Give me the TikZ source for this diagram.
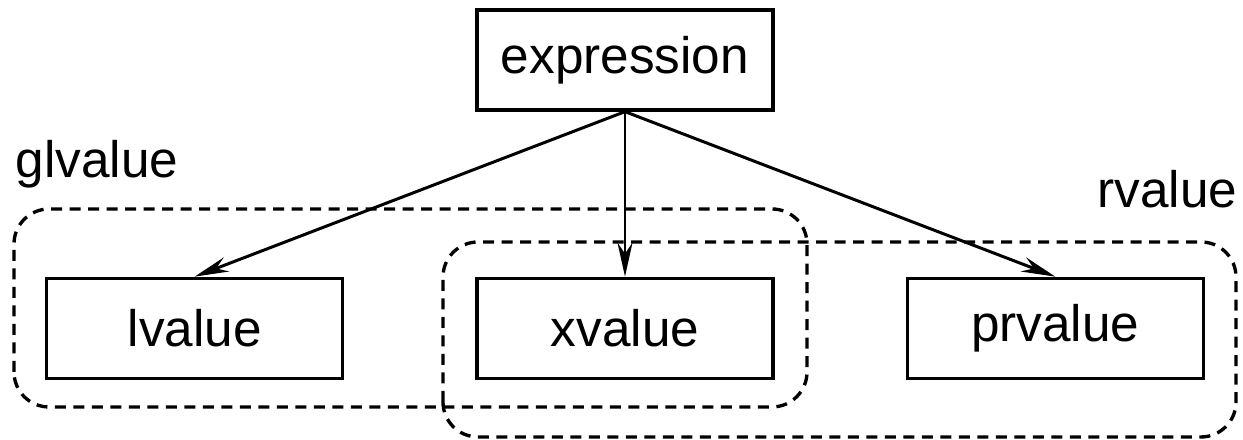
\documentclass[tikz,border=0pt]{standalone}
\usepackage{fontspec}
\setmainfont{Liberation Sans}
\usetikzlibrary{positioning,arrows.meta}
\tikzset{
valbox/.style={
  draw,
  line width=0.95pt,
  minimum width=2.96cm,
  minimum height=1cm,
  inner sep=0pt,
  font=\fontsize{14.6}{17}\selectfont
  },
grouplabel/.style={
  anchor=base west,
  inner sep=0pt,
  font=\fontsize{14.6}{17}\selectfont
  },
groupline/.style={
  line width=0.95pt,
  dash pattern=on 0.11cm off 0.075cm,
  rounded corners=0.35cm
  }
}
\begin{document}
\begin{tikzpicture}[>={Stealth[length=3.4mm,width=1.5mm]}]
\useasboundingbox (0,0) rectangle (12.43,4.40);

\node[valbox] at (6.25,3.80)
  (expr) {expression};
\node[valbox, below=1.65cm of expr]
  (xval) {xvalue};
\node[valbox, left=1.31cm of xval]
  (lval) {lvalue};
\node[valbox, right=1.31cm of xval]
  (prval) {prvalue};

% dashed groups
\draw[groupline] (0.14,0.33) rectangle (8.07,2.31);
\draw[groupline] (4.43,0.03) rectangle (12.36,1.98);
\node[grouplabel] at (0.15,2.62)
  (glv) {glvalue};
\node[grouplabel] at (10.97,2.32)
  (rv) {rvalue};

\begin{scope}[line width=0.85pt]
\draw[->]
  (expr.south) -- (lval.north);
\draw[->]
  (expr.south) -- (xval.north);
\draw[->]
  (expr.south) -- (prval.north);
\end{scope}
\end{tikzpicture}
\end{document}
